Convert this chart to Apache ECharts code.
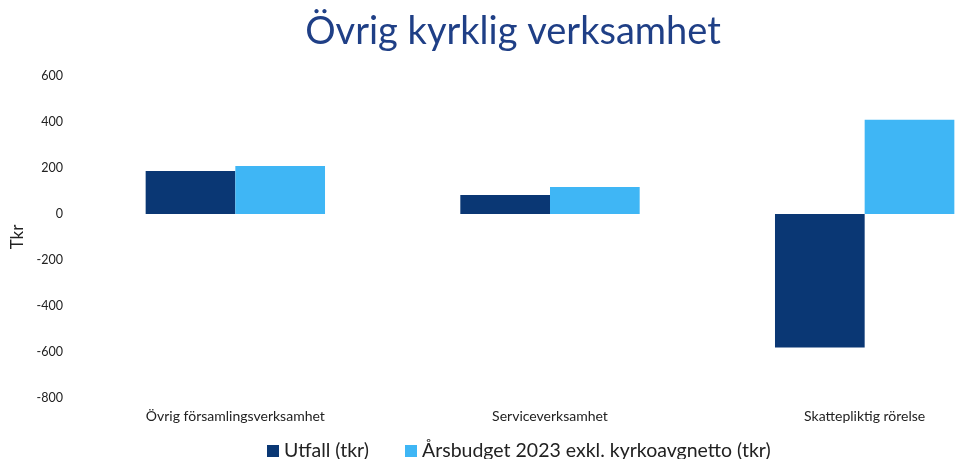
<!DOCTYPE html>
<html>
<head>
<meta charset="utf-8">
<script src="https://cdn.jsdelivr.net/npm/echarts@6/dist/echarts.min.js"></script>
<style>
  html, body { margin: 0; padding: 0; background: #fff; }
  #chart { width: 955px; height: 459px; }
</style>
</head>
<body>
<div id="chart"></div>
<script>
const categories = ["Övrig församlingsverksamhet", "Serviceverksamhet", "Skattepliktig rörelse"];
const utfall = [187, 83, -580];
const budget = [209, 117, 410];
const seriesNames = ["Utfall (tkr)", "Årsbudget 2023 exkl. kyrkoavgnetto (tkr)"];

const chart = echarts.init(document.getElementById("chart"));
const font = "Lato, 'Open Sans', sans-serif";

chart.setOption({
  animation: false,
  title: {
    text: "Övrig kyrklig verksamhet",
    left: 508,
    top: 8,
    textAlign: "center",
    textStyle: { color: "#1f3f86", fontSize: 38, fontWeight: "normal", fontFamily: font },
  },
  legend: {
    top: 436,
    left: 262,
    itemGap: 36,
    itemWidth: 12,
    itemHeight: 12,
    icon: "rect",
    textStyle: { color: "#222", fontSize: 19.5, fontFamily: font },
    data: seriesNames,
  },
  // plot runs past the right edge of the window, as in the cropped source
  grid: { left: 78, width: 944, top: 76, height: 322, containLabel: false, outerBoundsMode: "none" },
  xAxis: {
    type: "category",
    data: categories,
    axisLine: { show: false },
    axisTick: { show: false },
    axisLabel: { color: "#222", fontSize: 14, fontFamily: font, margin: 11 },
  },
  yAxis: {
    type: "value",
    min: -800,
    max: 600,
    interval: 200,
    name: "Tkr",
    nameLocation: "middle",
    nameGap: 51,
    nameTextStyle: { color: "#222", fontSize: 17, fontFamily: font },
    axisLine: { show: false },
    axisTick: { show: false },
    splitLine: { show: false },
    axisLabel: { color: "#222", fontSize: 12.5, fontFamily: font, margin: 15 },
  },
  series: [
    {
      name: seriesNames[0],
      type: "bar",
      data: utfall,
      barGap: "0%",
      barCategoryGap: "43%",
      itemStyle: { color: "#0a3774" },
    },
    {
      name: seriesNames[1],
      type: "bar",
      data: budget,
      itemStyle: { color: "#3fb6f5" },
    },
  ],
});
</script>
</body>
</html>
